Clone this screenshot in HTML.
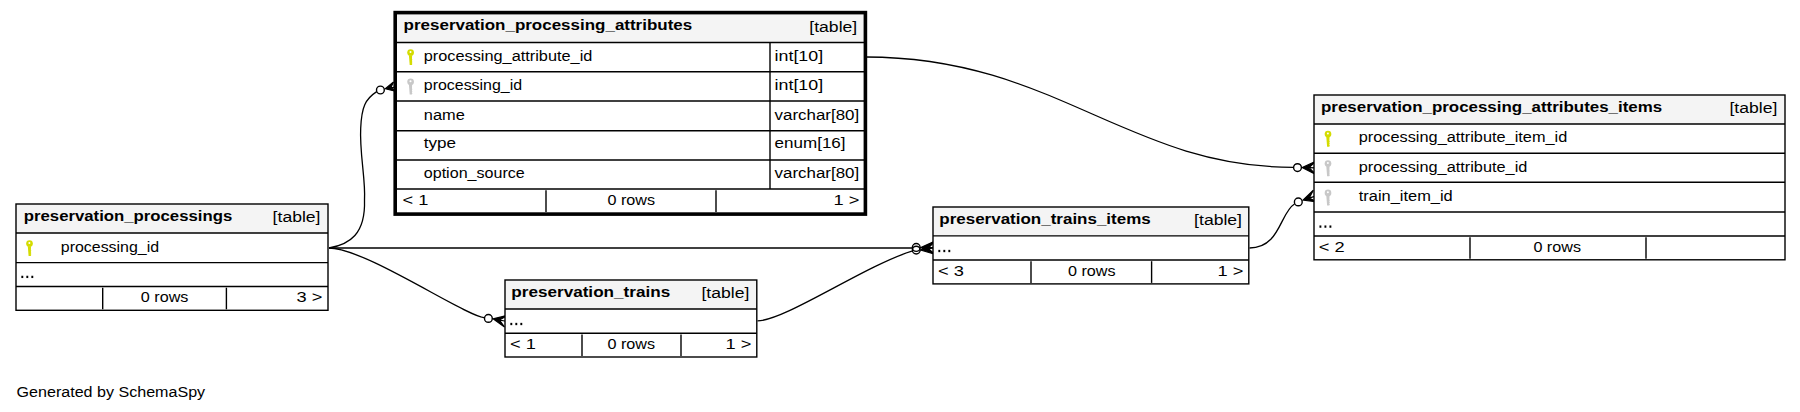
<!DOCTYPE html><html><head><meta charset="utf-8"><style>html,body{margin:0;padding:0;background:#fff;width:1800px;height:412px;overflow:hidden}svg{display:block}text{font-family:"Liberation Sans",sans-serif}</style></head><body><svg width="1800" height="412" viewBox="0 0 1800 412"><rect width="1800" height="412" fill="#fff"/><path d="M866,57 C1054.3,57 1127.4,167.3 1293.2,167.3" fill="none" stroke="#000" stroke-width="1.3"/><circle cx="1297.5" cy="167.6" r="3.9" fill="none" stroke="#000" stroke-width="1.4"/><path d="M1302.20,167.50 L1315.80,161.30 L1309.00,167.68 L1315.80,167.85 L1309.00,167.68 L1315.80,174.40 Z" fill="#000" stroke="#000" stroke-width="1.2" stroke-linejoin="miter"/><path d="M329,248 C349.5,244.5 365.6,234.2 364.5,200 C365.8,180.2 359.4,152.8 360.7,128.2 C361.6,106.9 365.3,99 376.7,91.6" fill="none" stroke="#000" stroke-width="1.3"/><circle cx="380.4" cy="90" r="3.9" fill="none" stroke="#000" stroke-width="1.4"/><path d="M385.30,88.80 L393.50,82.00 L390.65,87.90 L396.00,87.00 L390.65,87.90 L398.50,92.00 Z" fill="#000" stroke="#000" stroke-width="1.2" stroke-linejoin="miter"/><path d="M329,248 L912,248" fill="none" stroke="#000" stroke-width="1.3"/><path d="M329,248 C364.9,248 464.5,315.7 484,317.6" fill="none" stroke="#000" stroke-width="1.3"/><circle cx="488.4" cy="318.4" r="3.9" fill="none" stroke="#000" stroke-width="1.4"/><path d="M493.10,318.80 L507.30,315.40 L499.50,320.02 L505.90,321.25 L499.50,320.02 L504.50,327.10 Z" fill="#000" stroke="#000" stroke-width="1.2" stroke-linejoin="miter"/><path d="M757.5,320.9 C784.7,320.9 865.4,265.4 911.9,251.2" fill="none" stroke="#000" stroke-width="1.3"/><circle cx="916.25" cy="247.45" r="3.9" fill="none" stroke="#000" stroke-width="1.4"/><circle cx="916.25" cy="250.1" r="3.9" fill="none" stroke="#000" stroke-width="1.4"/><path d="M920.80,247.60 L934.00,241.50 L927.40,247.57 L934.00,247.55 L927.40,247.57 L934.00,253.60 Z" fill="#000" stroke="#000" stroke-width="1.2" stroke-linejoin="miter"/><path d="M920.80,250.00 L934.00,242.00 L927.40,249.00 L934.00,248.00 L927.40,249.00 L934.00,254.00 Z" fill="#000" stroke="#000" stroke-width="1.2" stroke-linejoin="miter"/><path d="M1249.5,248 C1280.1,248 1280.1,212.4 1294.5,204" fill="none" stroke="#000" stroke-width="1.3"/><circle cx="1298.3" cy="201.9" r="3.9" fill="none" stroke="#000" stroke-width="1.4"/><path d="M1303.00,200.10 L1313.30,190.20 L1309.12,198.10 L1315.25,196.10 L1309.12,198.10 L1317.20,202.00 Z" fill="#000" stroke="#000" stroke-width="1.2" stroke-linejoin="miter"/><rect x="395.2" y="12.6" width="470.2" height="201.5" fill="#fff" stroke="none" stroke-width="0"/><rect x="395.2" y="12.6" width="470.2" height="29.9" fill="#f4f4f4" stroke="none" stroke-width="0"/><line x1="395.2" y1="42.5" x2="865.4" y2="42.5" stroke="#000" stroke-width="1.4"/><line x1="395.2" y1="71.75" x2="865.4" y2="71.75" stroke="#000" stroke-width="1.4"/><line x1="395.2" y1="101" x2="865.4" y2="101" stroke="#000" stroke-width="1.4"/><line x1="395.2" y1="130.75" x2="865.4" y2="130.75" stroke="#000" stroke-width="1.4"/><line x1="395.2" y1="160" x2="865.4" y2="160" stroke="#000" stroke-width="1.4"/><line x1="395.2" y1="189" x2="865.4" y2="189" stroke="#000" stroke-width="1.4"/><line x1="770" y1="42.5" x2="770" y2="189" stroke="#000" stroke-width="1.4"/><line x1="546" y1="190.2" x2="546" y2="211.9" stroke="#000" stroke-width="1.4"/><line x1="716" y1="190.2" x2="716" y2="211.9" stroke="#000" stroke-width="1.4"/><rect x="395.2" y="12.6" width="470.2" height="201.5" fill="none" stroke="#000" stroke-width="3.6"/><g fill="#d4dc00"><circle cx="410.6" cy="52.5" r="3.35"/><path d="M408.90,55.20 L412.10,55.20 L412.00,59.40 L412.60,59.80 L412.00,60.40 L412.00,61.60 L412.60,62.00 L412.00,62.50 L411.90,63.40 L412.50,63.80 L411.80,65.10 L409.70,65.10 Z"/></g><circle cx="410.5" cy="51.900000000000006" r="1.0" fill="#fff"/><g fill="#c8c8c8"><circle cx="410.6" cy="81.8" r="3.35"/><path d="M408.90,84.50 L412.10,84.50 L412.00,88.70 L412.60,89.10 L412.00,89.70 L412.00,90.90 L412.60,91.30 L412.00,91.80 L411.90,92.70 L412.50,93.10 L411.80,94.40 L409.70,94.40 Z"/></g><circle cx="410.5" cy="81.2" r="1.0" fill="#fff"/><rect x="16" y="204" width="312" height="106.30000000000001" fill="#fff" stroke="none" stroke-width="0"/><rect x="16" y="204" width="312" height="29.0" fill="#f4f4f4" stroke="none" stroke-width="0"/><line x1="16" y1="233.0" x2="328" y2="233.0" stroke="#000" stroke-width="1.4"/><line x1="16" y1="262.6" x2="328" y2="262.6" stroke="#000" stroke-width="1.4"/><line x1="16" y1="286.5" x2="328" y2="286.5" stroke="#000" stroke-width="1.4"/><line x1="102.7" y1="287.7" x2="102.7" y2="309.3" stroke="#000" stroke-width="1.4"/><line x1="226.4" y1="287.7" x2="226.4" y2="309.3" stroke="#000" stroke-width="1.4"/><rect x="16" y="204" width="312" height="106.30000000000001" fill="none" stroke="#000" stroke-width="1.4"/><g fill="#d4dc00"><circle cx="29.5" cy="243.5" r="3.35"/><path d="M27.80,246.20 L31.00,246.20 L30.90,250.40 L31.50,250.80 L30.90,251.40 L30.90,252.60 L31.50,253.00 L30.90,253.50 L30.80,254.40 L31.40,254.80 L30.70,256.10 L28.60,256.10 Z"/></g><circle cx="29.4" cy="242.89999999999998" r="1.0" fill="#fff"/><rect x="21.35" y="275.75" width="1.9" height="2.3" fill="#000"/><rect x="26.35" y="275.75" width="1.9" height="2.3" fill="#000"/><rect x="31.35" y="275.75" width="1.9" height="2.3" fill="#000"/><rect x="505" y="280" width="251.79999999999995" height="77.0" fill="#fff" stroke="none" stroke-width="0"/><rect x="505" y="280" width="251.79999999999995" height="29" fill="#f4f4f4" stroke="none" stroke-width="0"/><line x1="505" y1="309" x2="756.8" y2="309" stroke="#000" stroke-width="1.4"/><line x1="505" y1="333.2" x2="756.8" y2="333.2" stroke="#000" stroke-width="1.4"/><line x1="582" y1="334.4" x2="582" y2="356.0" stroke="#000" stroke-width="1.4"/><line x1="681" y1="334.4" x2="681" y2="356.0" stroke="#000" stroke-width="1.4"/><rect x="505" y="280" width="251.79999999999995" height="77.0" fill="none" stroke="#000" stroke-width="1.4"/><rect x="510.35" y="322.85" width="1.9" height="2.3" fill="#000"/><rect x="515.35" y="322.85" width="1.9" height="2.3" fill="#000"/><rect x="520.35" y="322.85" width="1.9" height="2.3" fill="#000"/><rect x="933" y="207" width="315.79999999999995" height="76.89999999999998" fill="#fff" stroke="none" stroke-width="0"/><rect x="933" y="207" width="315.79999999999995" height="28.900000000000006" fill="#f4f4f4" stroke="none" stroke-width="0"/><line x1="933" y1="235.9" x2="1248.8" y2="235.9" stroke="#000" stroke-width="1.4"/><line x1="933" y1="260" x2="1248.8" y2="260" stroke="#000" stroke-width="1.4"/><line x1="1031" y1="261.2" x2="1031" y2="282.9" stroke="#000" stroke-width="1.4"/><line x1="1151.6" y1="261.2" x2="1151.6" y2="282.9" stroke="#000" stroke-width="1.4"/><rect x="933" y="207" width="315.79999999999995" height="76.89999999999998" fill="none" stroke="#000" stroke-width="1.4"/><rect x="938.35" y="249.85" width="1.9" height="2.3" fill="#000"/><rect x="943.35" y="249.85" width="1.9" height="2.3" fill="#000"/><rect x="948.35" y="249.85" width="1.9" height="2.3" fill="#000"/><rect x="1314" y="95" width="471" height="164.8" fill="#fff" stroke="none" stroke-width="0"/><rect x="1314" y="95" width="471" height="29" fill="#f4f4f4" stroke="none" stroke-width="0"/><line x1="1314" y1="124" x2="1785" y2="124" stroke="#000" stroke-width="1.4"/><line x1="1314" y1="153.3" x2="1785" y2="153.3" stroke="#000" stroke-width="1.4"/><line x1="1314" y1="182.3" x2="1785" y2="182.3" stroke="#000" stroke-width="1.4"/><line x1="1314" y1="212" x2="1785" y2="212" stroke="#000" stroke-width="1.4"/><line x1="1314" y1="236" x2="1785" y2="236" stroke="#000" stroke-width="1.4"/><line x1="1470" y1="237.2" x2="1470" y2="258.8" stroke="#000" stroke-width="1.4"/><line x1="1646" y1="237.2" x2="1646" y2="258.8" stroke="#000" stroke-width="1.4"/><rect x="1314" y="95" width="471" height="164.8" fill="none" stroke="#000" stroke-width="1.4"/><g fill="#d4dc00"><circle cx="1328" cy="134.10000000000002" r="3.35"/><path d="M1326.30,136.80 L1329.50,136.80 L1329.40,141.00 L1330.00,141.40 L1329.40,142.00 L1329.40,143.20 L1330.00,143.60 L1329.40,144.10 L1329.30,145.00 L1329.90,145.40 L1329.20,146.70 L1327.10,146.70 Z"/></g><circle cx="1327.9" cy="133.5" r="1.0" fill="#fff"/><g fill="#c8c8c8"><circle cx="1328" cy="163.60000000000002" r="3.35"/><path d="M1326.30,166.30 L1329.50,166.30 L1329.40,170.50 L1330.00,170.90 L1329.40,171.50 L1329.40,172.70 L1330.00,173.10 L1329.40,173.60 L1329.30,174.50 L1329.90,174.90 L1329.20,176.20 L1327.10,176.20 Z"/></g><circle cx="1327.9" cy="163.0" r="1.0" fill="#fff"/><g fill="#c8c8c8"><circle cx="1328" cy="192.9" r="3.35"/><path d="M1326.30,195.60 L1329.50,195.60 L1329.40,199.80 L1330.00,200.20 L1329.40,200.80 L1329.40,202.00 L1330.00,202.40 L1329.40,202.90 L1329.30,203.80 L1329.90,204.20 L1329.20,205.50 L1327.10,205.50 Z"/></g><circle cx="1327.9" cy="192.29999999999998" r="1.0" fill="#fff"/><rect x="1319.45" y="225.45" width="1.9" height="2.3" fill="#000"/><rect x="1324.45" y="225.45" width="1.9" height="2.3" fill="#000"/><rect x="1329.45" y="225.45" width="1.9" height="2.3" fill="#000"/><g font-family="Liberation Sans, sans-serif" font-size="15.1" fill="#000"><text x="403.60" y="30.00" textLength="288.62" lengthAdjust="spacingAndGlyphs" font-weight="bold">preservation_processing_attributes</text><text x="809.33" y="32.00" textLength="47.88" lengthAdjust="spacingAndGlyphs">[table]</text><text x="423.80" y="61.00" textLength="168.54" lengthAdjust="spacingAndGlyphs">processing_attribute_id</text><text x="774.60" y="61.00" textLength="48.50" lengthAdjust="spacingAndGlyphs">int[10]</text><text x="423.80" y="90.00" textLength="98.30" lengthAdjust="spacingAndGlyphs">processing_id</text><text x="774.60" y="90.00" textLength="48.50" lengthAdjust="spacingAndGlyphs">int[10]</text><text x="423.80" y="120.00" textLength="40.99" lengthAdjust="spacingAndGlyphs">name</text><text x="774.60" y="120.00" textLength="84.60" lengthAdjust="spacingAndGlyphs">varchar[80]</text><text x="423.80" y="148.00" textLength="32.28" lengthAdjust="spacingAndGlyphs">type</text><text x="774.60" y="148.00" textLength="70.96" lengthAdjust="spacingAndGlyphs">enum[16]</text><text x="423.80" y="178.00" textLength="100.91" lengthAdjust="spacingAndGlyphs">option_source</text><text x="774.60" y="178.00" textLength="84.60" lengthAdjust="spacingAndGlyphs">varchar[80]</text><text x="402.60" y="205.00" textLength="25.89" lengthAdjust="spacingAndGlyphs">&lt; 1</text><text x="607.50" y="205.00" textLength="47.60" lengthAdjust="spacingAndGlyphs">0 rows</text><text x="833.61" y="205.00" textLength="25.89" lengthAdjust="spacingAndGlyphs">1 &gt;</text><text x="23.80" y="221.00" textLength="208.41" lengthAdjust="spacingAndGlyphs" font-weight="bold">preservation_processings</text><text x="272.63" y="222.00" textLength="47.88" lengthAdjust="spacingAndGlyphs">[table]</text><text x="60.80" y="252.00" textLength="98.30" lengthAdjust="spacingAndGlyphs">processing_id</text><text x="140.80" y="302.00" textLength="47.60" lengthAdjust="spacingAndGlyphs">0 rows</text><text x="296.61" y="302.00" textLength="25.89" lengthAdjust="spacingAndGlyphs">3 &gt;</text><text x="511.30" y="297.00" textLength="158.89" lengthAdjust="spacingAndGlyphs" font-weight="bold">preservation_trains</text><text x="701.43" y="298.00" textLength="47.88" lengthAdjust="spacingAndGlyphs">[table]</text><text x="510.00" y="349.00" textLength="25.89" lengthAdjust="spacingAndGlyphs">&lt; 1</text><text x="607.50" y="349.00" textLength="47.60" lengthAdjust="spacingAndGlyphs">0 rows</text><text x="725.41" y="349.00" textLength="25.89" lengthAdjust="spacingAndGlyphs">1 &gt;</text><text x="939.30" y="224.00" textLength="211.44" lengthAdjust="spacingAndGlyphs" font-weight="bold">preservation_trains_items</text><text x="1194.13" y="225.00" textLength="47.88" lengthAdjust="spacingAndGlyphs">[table]</text><text x="938.00" y="276.00" textLength="25.89" lengthAdjust="spacingAndGlyphs">&lt; 3</text><text x="1068.00" y="276.00" textLength="47.60" lengthAdjust="spacingAndGlyphs">0 rows</text><text x="1217.41" y="276.00" textLength="25.89" lengthAdjust="spacingAndGlyphs">1 &gt;</text><text x="1321.00" y="112.00" textLength="341.19" lengthAdjust="spacingAndGlyphs" font-weight="bold">preservation_processing_attributes_items</text><text x="1729.43" y="113.00" textLength="47.88" lengthAdjust="spacingAndGlyphs">[table]</text><text x="1358.80" y="142.00" textLength="208.42" lengthAdjust="spacingAndGlyphs">processing_attribute_item_id</text><text x="1358.80" y="172.00" textLength="168.54" lengthAdjust="spacingAndGlyphs">processing_attribute_id</text><text x="1358.80" y="201.00" textLength="93.93" lengthAdjust="spacingAndGlyphs">train_item_id</text><text x="1318.80" y="252.00" textLength="25.89" lengthAdjust="spacingAndGlyphs">&lt; 2</text><text x="1533.40" y="252.00" textLength="47.60" lengthAdjust="spacingAndGlyphs">0 rows</text><text x="16.60" y="397.00" textLength="188.56" lengthAdjust="spacingAndGlyphs">Generated by SchemaSpy</text></g></svg></body></html>
